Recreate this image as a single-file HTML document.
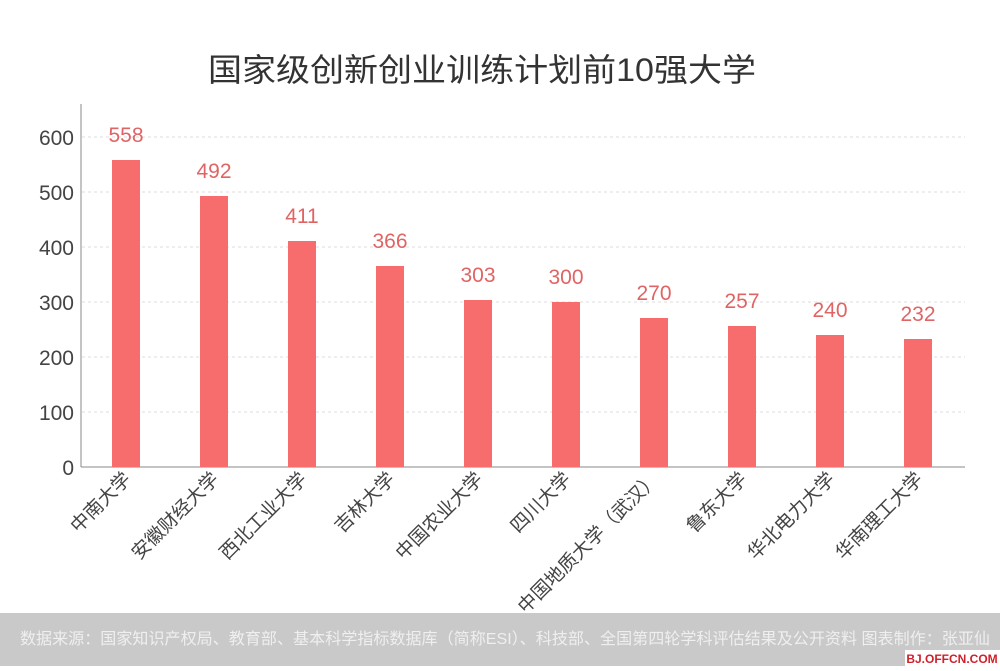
<!DOCTYPE html>
<html><head><meta charset="utf-8"><style>
body{margin:0;width:1000px;height:666px;overflow:hidden;background:#fff;font-family:"Liberation Sans","Noto Sans CJK SC",sans-serif}
</style></head><body>
<svg width="1000" height="666" xmlns="http://www.w3.org/2000/svg" font-family="Liberation Sans, Noto Sans CJK SC, sans-serif">
<text x="208" y="81" font-size="32" textLength="548" lengthAdjust="spacingAndGlyphs" fill="#333">国家级创新创业训练计划前10强大学</text>
<g stroke="#ddd" stroke-dasharray="3,3">
<line x1="82" x2="965" y1="137" y2="137"/><line x1="82" x2="965" y1="192" y2="192"/><line x1="82" x2="965" y1="247" y2="247"/><line x1="82" x2="965" y1="302" y2="302"/><line x1="82" x2="965" y1="357" y2="357"/><line x1="82" x2="965" y1="412" y2="412"/>
</g>
<line x1="81" y1="104" x2="81" y2="467" stroke="#888"/>
<line x1="81" y1="467" x2="965" y2="467" stroke="#888"/>
<g font-size="21" fill="#444" text-anchor="end">
<text x="74" y="145">600</text><text x="74" y="200">500</text><text x="74" y="255">400</text><text x="74" y="310">300</text><text x="74" y="365">200</text><text x="74" y="420">100</text><text x="74" y="475">0</text>
</g>
<g fill="#f76d6d">
<rect x="112" y="160" width="28" height="307"/>
<rect x="200" y="196" width="28" height="271"/>
<rect x="288" y="241" width="28" height="226"/>
<rect x="376" y="266" width="28" height="201"/>
<rect x="464" y="300" width="28" height="167"/>
<rect x="552" y="302" width="28" height="165"/>
<rect x="640" y="318" width="28" height="149"/>
<rect x="728" y="326" width="28" height="141"/>
<rect x="816" y="335" width="28" height="132"/>
<rect x="904" y="339" width="28" height="128"/>
</g>
<g font-size="21" fill="#e06464" text-anchor="middle">
<text x="126" y="142">558</text><text x="214" y="178">492</text><text x="302" y="223">411</text><text x="390" y="248">366</text><text x="478" y="282">303</text><text x="566" y="284">300</text><text x="654" y="300">270</text><text x="742" y="308">257</text><text x="830" y="317">240</text><text x="918" y="321">232</text>
</g>
<g font-size="19" fill="#444" text-anchor="end">
<text transform="translate(132,480) rotate(-45)">中南大学</text>
<text transform="translate(220,480) rotate(-45)">安徽财经大学</text>
<text transform="translate(308,480) rotate(-45)">西北工业大学</text>
<text transform="translate(396,480) rotate(-45)">吉林大学</text>
<text transform="translate(484,480) rotate(-45)">中国农业大学</text>
<text transform="translate(572,480) rotate(-45)">四川大学</text>
<text transform="translate(660,480) rotate(-45)">中国地质大学（武汉）</text>
<text transform="translate(748,480) rotate(-45)">鲁东大学</text>
<text transform="translate(836,480) rotate(-45)">华北电力大学</text>
<text transform="translate(924,480) rotate(-45)">华南理工大学</text>
</g>
<rect x="0" y="613" width="1000" height="53" fill="#c9c9c9"/>
<text x="20" y="644" font-size="16" textLength="970" lengthAdjust="spacingAndGlyphs" fill="#efefef">数据来源：国家知识产权局、教育部、基本科学指标数据库（简称ESI）、科技部、全国第四轮学科评估结果及公开资料  图表制作：张亚仙</text>
<rect x="905" y="650" width="95" height="16" fill="#fff"/>
<text x="952" y="663" font-size="12" font-weight="bold" fill="#d0202a" text-anchor="middle">BJ.OFFCN.COM</text>
</svg>
</body></html>
